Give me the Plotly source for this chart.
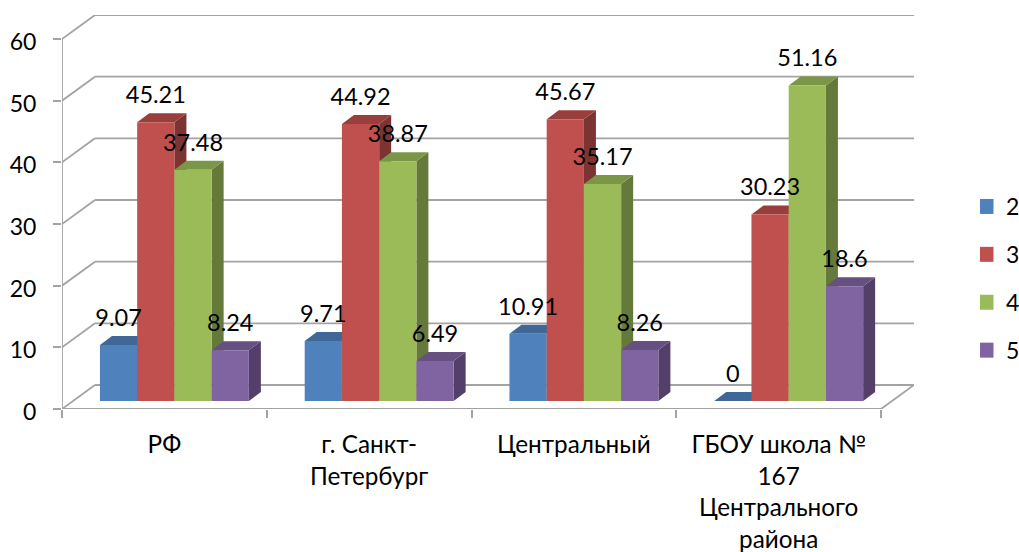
#!/usr/bin/env python3
# -*- coding: utf-8 -*-
import plotly.graph_objects as go

#%%
# data

categories = ["РФ", "г. Санкт-<br>Петербург", "Центральный",
              "ГБОУ школа №<br>167<br>Центрального<br>района"]
series_names = ["2", "3", "4", "5"]
values_2 = [9.07, 9.71, 10.91, 0]
values_3 = [45.21, 44.92, 45.67, 30.23]
values_4 = [37.48, 38.87, 35.17, 51.16]
values_5 = [8.24, 6.49, 8.26, 18.6]
y_ticks = [0, 10, 20, 30, 40, 50, 60]

front_colors = ["#4F81BD", "#C0504D", "#9BBB59", "#8064A2"]
top_colors = ["#3F6797", "#983F3D", "#7C9647", "#664F81"]
side_colors = ["#335479", "#7C3432", "#65793A", "#533F69"]
grid_color = "#A3A3A3"

#%%
# fake 3D geometry, all in axis units (1 x unit = one category)

wall_dx = 0.161   # depth of the floor
wall_dy = 3.89
bar_off_x = 0.049   # front of the bars sits this far into the floor
bar_off_y = 1.3
bar_dx = 0.0586   # depth of a bar
bar_dy = 1.46
bar_w = 1 / 5.5   # gap width 150%
n_cat = len(categories)

all_values = [values_2, values_3, values_4, values_5]


def poly(points):
    path = "M " + " L ".join(f"{x},{y}" for x, y in points) + " Z"
    return path


shapes = []
line = dict(color=grid_color, width=1.8)

# walls and gridlines
for v in y_ticks:
    shapes.append(dict(type="line", x0=0, y0=v, x1=wall_dx, y1=v + wall_dy, line=line, layer="below"))
    shapes.append(dict(type="line", x0=wall_dx, y0=v + wall_dy, x1=n_cat + wall_dx, y1=v + wall_dy, line=line, layer="below"))
shapes.append(dict(type="line", x0=0, y0=0, x1=0, y1=y_ticks[-1], line=line, layer="below"))
shapes.append(dict(type="line", x0=0, y0=0, x1=n_cat, y1=0, line=line, layer="below"))
shapes.append(dict(type="line", x0=n_cat, y0=0, x1=n_cat + wall_dx, y1=wall_dy, line=line, layer="below"))

fig = go.Figure()

for s, vals in enumerate(all_values):
    lefts = [i + bar_off_x + 0.75 * bar_w + s * bar_w for i in range(n_cat)]

    for xl, v in zip(lefts, vals):
        top = bar_off_y + v
        xr = xl + bar_w
        # top and side go below the traces, the front bars cover them
        shapes.append(dict(type="path", layer="below", line=dict(width=0), fillcolor=side_colors[s],
                           path=poly([(xr, bar_off_y), (xr + bar_dx, bar_off_y + bar_dy),
                                      (xr + bar_dx, top + bar_dy), (xr, top)])))
        shapes.append(dict(type="path", layer="below", line=dict(width=0), fillcolor=top_colors[s],
                           path=poly([(xl, top), (xr, top), (xr + bar_dx, top + bar_dy), (xl + bar_dx, top + bar_dy)])))

    fig.add_trace(go.Bar(x=[xl + bar_w / 2 for xl in lefts], y=vals, base=bar_off_y, width=bar_w,
                         marker=dict(color=front_colors[s], line=dict(width=0)),
                         showlegend=False, hoverinfo="skip"))

# data labels
label_up = 4.05
for s, vals in enumerate(all_values):
    lefts = [i + bar_off_x + 0.75 * bar_w + s * bar_w for i in range(n_cat)]
    fig.add_trace(go.Scatter(x=[xl + bar_w / 2 for xl in lefts],
                             y=[bar_off_y + v + label_up for v in vals],
                             mode="text", text=[str(v) for v in vals], textposition="middle center",
                             textfont=dict(size=23.5, color="#000000"),
                             cliponaxis=False, showlegend=False, hoverinfo="skip"))

# legend entries
for s, name in enumerate(series_names):
    fig.add_trace(go.Scatter(x=[None], y=[None], mode="markers", name=name, legendgroup=name,
                             marker=dict(symbol="square", size=15, color=front_colors[s])))

fig.update_layout(
    width=1019, height=552, autosize=False,
    margin=dict(l=62, r=104.5, t=14.5, b=143),
    paper_bgcolor="#FFFFFF", plot_bgcolor="#FFFFFF",
    barmode="overlay", shapes=shapes,
    font=dict(family="Lato, 'Open Sans', sans-serif", size=23, color="#000000"),
    xaxis=dict(range=[0, n_cat + wall_dx], showgrid=False, zeroline=False, showline=False, automargin=False,
               tickmode="array", tickvals=[i + 0.5 for i in range(n_cat)], ticktext=categories,
               ticks="", tickangle=0, ticklabelstandoff=19, tickfont=dict(size=24.3),
               minor=dict(tickmode="array", tickvals=list(range(n_cat + 1)), ticks="outside",
                          ticklen=8, tickwidth=1.8, tickcolor=grid_color, showgrid=False)),
    yaxis=dict(range=[0, y_ticks[-1] + wall_dy], showgrid=False, zeroline=False, showline=False, automargin=False,
               tickmode="array", tickvals=y_ticks, ticks="outside", ticklen=8, tickwidth=1.8,
               tickcolor=grid_color, ticklabelstandoff=12, ticklabelshift=3),
    legend=dict(x=980 / 1019, y=1 - 185 / 552, xanchor="left", yanchor="top", xref="container", yref="container",
                tracegroupgap=15, indentation=-14, bgcolor="rgba(0,0,0,0)", font=dict(size=23)),
)

fig.write_html("out.html", config=dict(displayModeBar=False), post_script="document.body.style.margin='0';")
